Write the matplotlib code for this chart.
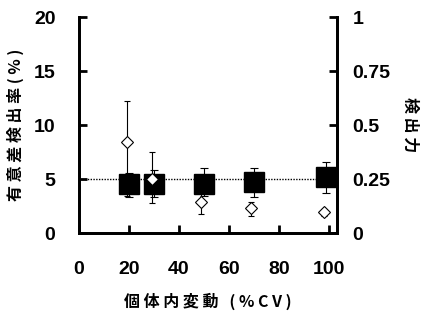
import matplotlib.pyplot as plt

plt.rcParams["font.family"] = ["Liberation Sans", "DejaVu Sans"]
plt.rcParams["font.weight"] = "bold"

# significant-difference detection rate (%), left axis
rate_x = [19.3, 29.0, 49.0, 68.8, 98.0]
rate_y = [8.4, 5.0, 2.9, 2.3, 1.9]
rate_lo = [3.4, 2.75, 1.8, 1.55, 1.6]
rate_hi = [12.2, 7.5, 4.0, 2.9, 2.2]

# power, right axis
power_x = [20, 30, 50, 70, 99]
power_y = [0.227, 0.227, 0.227, 0.235, 0.26]
power_lo = [0.168, 0.168, 0.17, 0.168, 0.187]
power_hi = [0.279, 0.292, 0.30, 0.302, 0.33]

xticks = [0, 20, 40, 60, 80, 100]
left_ticks = [0, 5, 10, 15, 20]
right_ticks = [0, 0.25, 0.5, 0.75, 1]
right_labels = ["0", "0.25", "0.5", "0.75", "1"]

cjk = ["Noto Sans CJK JP", "DejaVu Sans"]

fig = plt.figure(figsize=(4.35, 3.17), dpi=100)
ax = fig.add_axes([79 / 435, 1 - 233 / 317, (337 - 79) / 435, (233 - 17) / 317])
ax2 = ax.twinx()

ax.axhline(5, color="black", linestyle=(0, (1, 1)), linewidth=1, zorder=1)

pyerr = [[y - lo for y, lo in zip(power_y, power_lo)], [hi - y for y, hi in zip(power_y, power_hi)]]
ax2.errorbar(power_x, power_y, yerr=pyerr, fmt="s", color="black", ecolor="black",
             markersize=14, capsize=3, elinewidth=0.8, capthick=0.8, zorder=2)

ryerr = [[y - lo for y, lo in zip(rate_y, rate_lo)], [hi - y for y, hi in zip(rate_y, rate_hi)]]
ax2.set_zorder(1)
ax.set_zorder(2)
ax.patch.set_visible(False)
ax.errorbar(rate_x, rate_y, yerr=ryerr, fmt="D", color="black", ecolor="black", markerfacecolor="white",
            markersize=6, markeredgewidth=0.8, capsize=2.5, elinewidth=0.8, capthick=0.8, zorder=3)

ax.set_xlim(0, 103.2)
ax.set_ylim(0, 20)
ax2.set_ylim(0, 1)
ax.set_xticks(xticks)
ax.set_yticks(left_ticks)
ax2.set_yticks(right_ticks, right_labels)

for a in (ax, ax2):
    for s in a.spines.values():
        s.set_linewidth(2)
    a.spines["top"].set_visible(False)
    a.tick_params(direction="in", width=2, length=6, labelsize=14)
ax.tick_params(axis="x", pad=20)
ax.tick_params(axis="y", pad=17)
ax2.tick_params(axis="y", pad=11)
for lab in ax.get_xticklabels() + ax.get_yticklabels() + ax2.get_yticklabels():
    lab.set_fontweight("bold")

ax.set_xlabel("個 体 内 変 動   ( % C V )", family=cjk, fontsize=11.5, fontweight="bold", labelpad=11)
ax.set_ylabel("有 意 差 検 出 率 ( % )", family=cjk, fontsize=11.5, fontweight="bold", labelpad=7)
ax2.set_ylabel("検 出 力", family=cjk, fontsize=11.5, fontweight="bold", rotation=-90, labelpad=20)

fig.savefig("out.png", dpi=100)
